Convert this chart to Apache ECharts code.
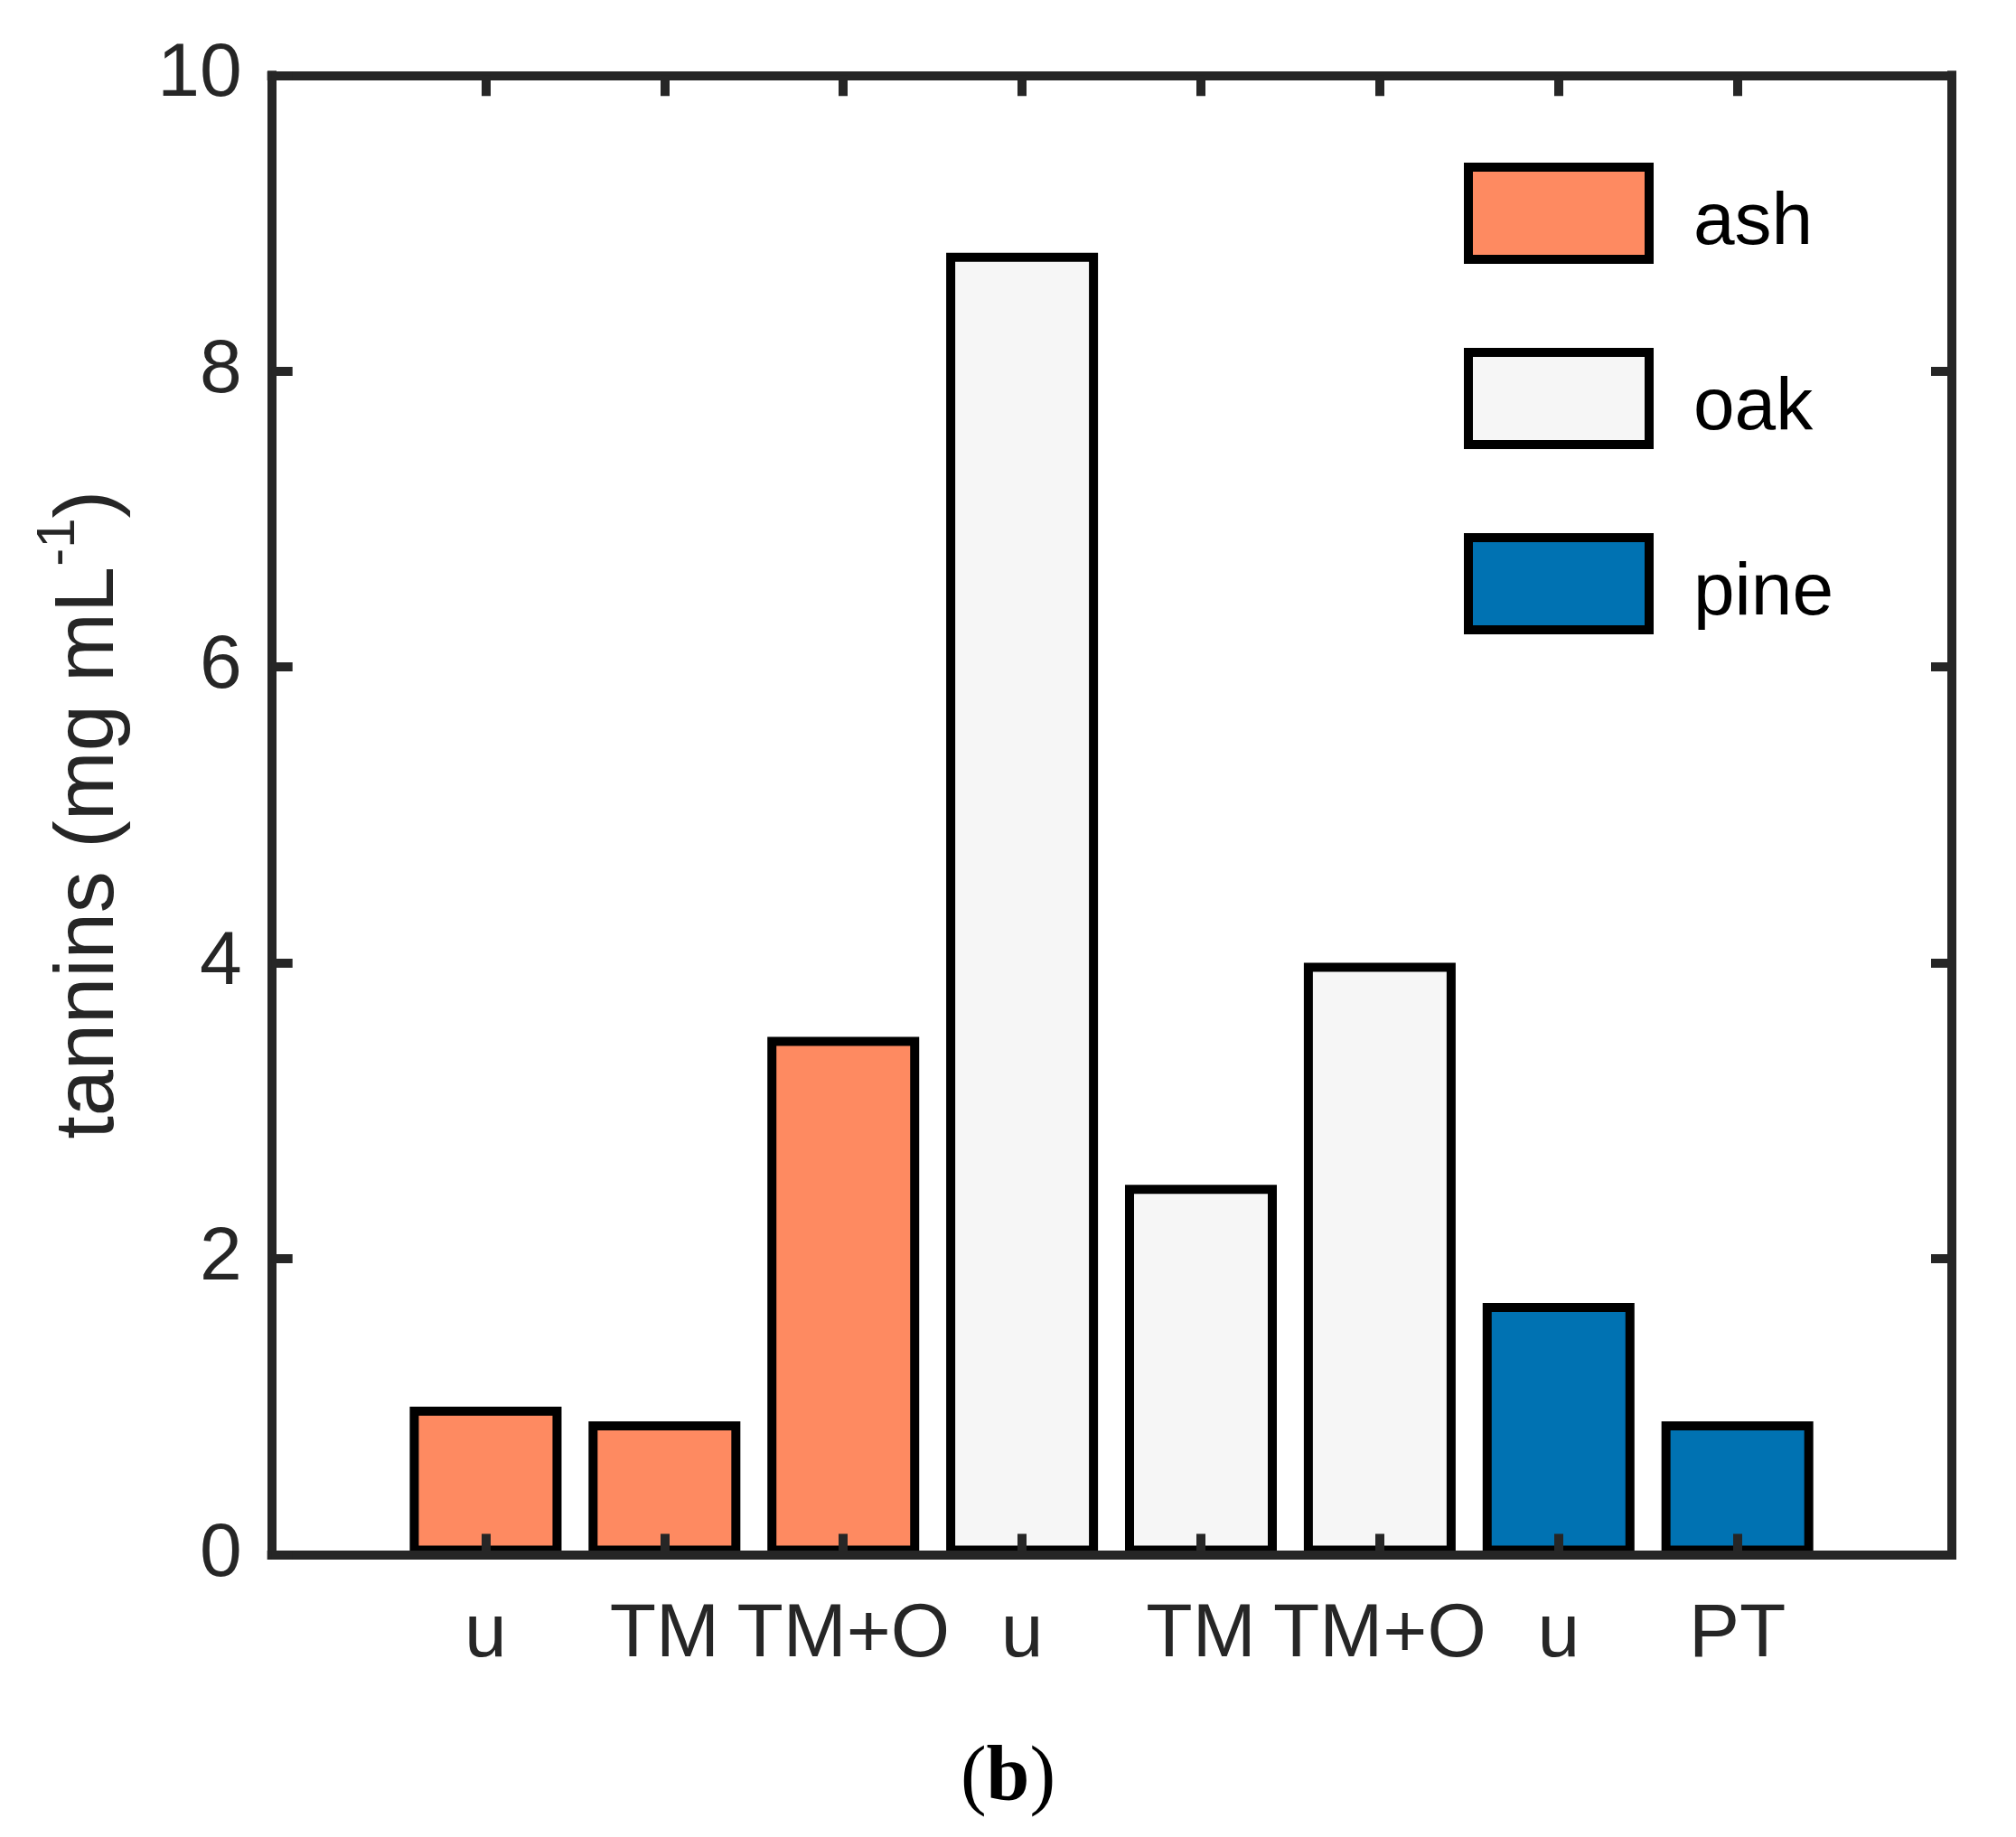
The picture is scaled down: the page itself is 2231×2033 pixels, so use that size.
<!DOCTYPE html>
<html>
<head>
<meta charset="utf-8">
<script src="https://cdn.jsdelivr.net/npm/echarts@6/dist/echarts.min.js"></script>
<style>
  html, body { margin: 0; padding: 0; background: #fff; }
  #chart { width: 2231px; height: 2033px; }
</style>
</head>
<body>
<div id="chart"></div>
<script>
// data
var categories = ['u', 'TM', 'TM+O', 'u', 'TM', 'TM+O', 'u', 'PT'];
var ashValues = [1.0, 0.9, 3.5];
var oakValues = [8.8, 2.5, 4.0];
var pineValues = [1.7, 0.9];
var seriesNames = ['ash', 'oak', 'pine'];
var seriesColors = ['#FE8A61', '#F6F6F6', '#0072B2'];
var yMin = 0, yMax = 10, yStep = 2;

// each wood type sits on its own run of categories
var ashData = ashValues.concat(['-', '-', '-', '-', '-']);
var oakData = ['-', '-', '-'].concat(oakValues, ['-', '-']);
var pineData = ['-', '-', '-', '-', '-', '-'].concat(pineValues);

var axisColor = '#262626';
var font = '"Liberation Sans", Arial, sans-serif';

var chart = echarts.init(document.getElementById('chart'));

var frameLine = { show: true, onZero: false, lineStyle: { color: axisColor, width: 10, cap: 'square' } };
var tickStyle = { color: axisColor, width: 10 };

var option = {
    backgroundColor: '#fff',
    animation: false,
    grid: [
        // frame box
        { left: 300.7, right: 71, top: 83.3, bottom: 312.6, outerBoundsMode: 'none' },
        // bars sit on the inner range of the x limits
        { left: 438.5, right: 209.4, top: 83.3, bottom: 312.6, outerBoundsMode: 'none' }
    ],
    legend: {
        orient: 'vertical',
        left: 1620,
        top: 180,
        padding: 0,
        itemWidth: 200,
        itemHeight: 102,
        itemGap: 93,
        icon: 'rect',
        data: seriesNames,
        itemStyle: { borderColor: '#000', borderWidth: 10 },
        formatter: '{t|{name}}',
        textStyle: {
            fontSize: 82, fontFamily: font, color: '#000',
            rich: { t: { fontSize: 82, fontFamily: font, color: '#000', lineHeight: 80, padding: [22, 0, 0, 44] } }
        }
    },
    xAxis: [
        {
            gridIndex: 0, type: 'value', min: 0, max: 1, position: 'bottom', z: 4,
            axisLine: frameLine, axisTick: { show: false }, axisLabel: { show: false },
            splitLine: { show: false }
        },
        {
            gridIndex: 0, type: 'value', min: 0, max: 1, position: 'top', z: 4,
            axisLine: frameLine, axisTick: { show: false }, axisLabel: { show: false },
            splitLine: { show: false }
        },
        {
            gridIndex: 1, type: 'category', data: categories, position: 'bottom', z: 5,
            axisLine: { show: false, onZero: false },
            axisTick: { show: true, inside: true, alignWithLabel: true, length: 23, lineStyle: tickStyle },
            axisLabel: { fontSize: 84, fontFamily: font, color: axisColor, margin: 47, lineHeight: 84, interval: 0 },
            splitLine: { show: false }
        },
        {
            gridIndex: 1, type: 'category', data: categories, position: 'top', z: 5,
            axisLine: { show: false, onZero: false },
            axisTick: { show: true, inside: true, alignWithLabel: true, length: 23, lineStyle: tickStyle },
            axisLabel: { show: false },
            splitLine: { show: false }
        }
    ],
    yAxis: [
        {
            gridIndex: 0, type: 'value', min: yMin, max: yMax, interval: yStep, position: 'left', z: 4,
            axisLine: frameLine,
            axisTick: { show: true, inside: true, length: 23, lineStyle: tickStyle },
            axisLabel: { fontSize: 84, fontFamily: font, color: axisColor, margin: 33 },
            splitLine: { show: false },
            name: 'tannins (mg mL{sup|-1})',
            nameLocation: 'middle',
            nameGap: 134,
            nameTextStyle: {
                fontSize: 92, fontFamily: font, color: axisColor, lineHeight: 128,
                rich: { sup: { fontSize: 60, lineHeight: 60, verticalAlign: 'top', fontFamily: font, color: axisColor } }
            }
        },
        {
            gridIndex: 0, type: 'value', min: yMin, max: yMax, interval: yStep, position: 'right', z: 4,
            axisLine: frameLine,
            axisTick: { show: true, inside: true, length: 23, lineStyle: tickStyle },
            axisLabel: { show: false },
            splitLine: { show: false }
        },
        {
            gridIndex: 1, type: 'value', min: yMin, max: yMax, show: false,
            splitLine: { show: false }
        }
    ],
    graphic: [{
        type: 'text',
        left: 'center',
        y: 1969,
        style: {
            text: '{n|(}{b|b}{n|)}',
            verticalAlign: 'middle',
            rich: {
                n: { fontSize: 86, fontFamily: '"Liberation Serif", "Times New Roman", serif', fill: '#000' },
                b: { fontSize: 86, fontWeight: 'bold', fontFamily: '"Liberation Serif", "Times New Roman", serif', fill: '#000' }
            }
        }
    }],
    series: [
        {
            name: seriesNames[0], type: 'bar', xAxisIndex: 2, yAxisIndex: 2,
            data: ashData, barWidth: 168, barGap: '-100%',
            itemStyle: { color: seriesColors[0], borderColor: '#000', borderWidth: 10 }
        },
        {
            name: seriesNames[1], type: 'bar', xAxisIndex: 2, yAxisIndex: 2,
            data: oakData, barWidth: 168, barGap: '-100%',
            itemStyle: { color: seriesColors[1], borderColor: '#000', borderWidth: 10 }
        },
        {
            name: seriesNames[2], type: 'bar', xAxisIndex: 2, yAxisIndex: 2,
            data: pineData, barWidth: 168, barGap: '-100%',
            itemStyle: { color: seriesColors[2], borderColor: '#000', borderWidth: 10 }
        }
    ]
};

chart.setOption(option);
</script>
</body>
</html>
